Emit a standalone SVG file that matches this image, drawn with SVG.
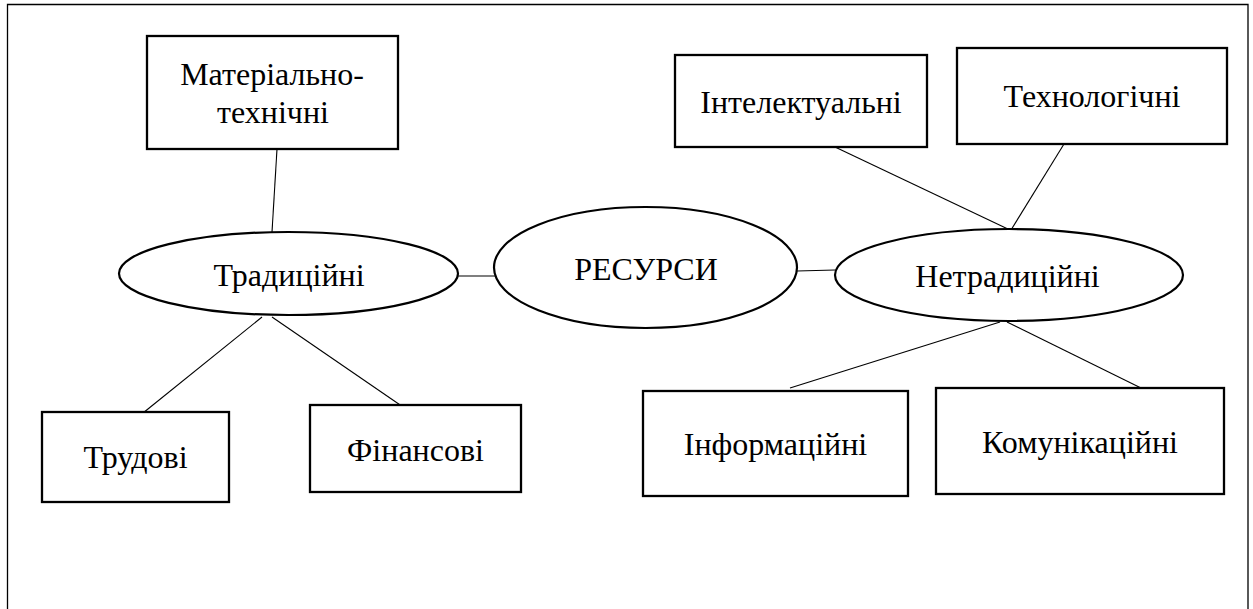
<svg xmlns="http://www.w3.org/2000/svg" width="1253" height="609" viewBox="0 0 1253 609">
<style>
  .box { fill: #fff; stroke: #000; stroke-width: 2.3; }
  .ell { fill: #fff; stroke: #000; stroke-width: 2.2; }
  .con { stroke: #000; stroke-width: 1.1; fill: none; }
  .frame { stroke: #000; stroke-width: 1.3; fill: none; }
  text { font-family: "Liberation Serif", "Times New Roman", serif; font-size: 32px; fill: #000; text-anchor: middle; }
</style>
<rect width="1253" height="609" fill="#fff"/>
<path class="frame" d="M7.5,609 V4.5 H1248 V609"/>
<g id="connectors">
  <line class="con" x1="277" y1="149" x2="272" y2="232"/>
  <line class="con" x1="458" y1="276" x2="497" y2="276"/>
  <line class="con" x1="797" y1="271" x2="835" y2="270"/>
  <line class="con" x1="262" y1="317" x2="143" y2="413"/>
  <line class="con" x1="272" y1="317" x2="406" y2="409"/>
  <line class="con" x1="835" y1="147" x2="1010" y2="230"/>
  <line class="con" x1="1064" y1="144" x2="1011" y2="230"/>
  <line class="con" x1="1000" y1="322" x2="790" y2="388"/>
  <line class="con" x1="1007" y1="322" x2="1141" y2="388"/>
</g>
<g id="material">
  <rect class="box" x="147" y="36" width="251" height="113"/>
  <text x="272" y="85">Матеріально-</text>
  <text x="273" y="123">технічні</text>
</g>
<g id="traditional">
  <ellipse class="ell" cx="288.5" cy="273.5" rx="169.5" ry="41.5"/>
  <text x="289" y="286">Традиційні</text>
</g>
<g id="resources">
  <ellipse class="ell" cx="645.5" cy="267.5" rx="151.5" ry="60.5"/>
  <text x="646" y="280">РЕСУРСИ</text>
</g>
<g id="nontraditional">
  <ellipse class="ell" cx="1009" cy="275" rx="174" ry="46"/>
  <text x="1007.5" y="287">Нетрадиційні</text>
</g>
<g id="intellectual">
  <rect class="box" x="675" y="55" width="252" height="92"/>
  <text x="801" y="113">Інтелектуальні</text>
</g>
<g id="technological">
  <rect class="box" x="957" y="48" width="270" height="96"/>
  <text x="1092" y="107">Технологічні</text>
</g>
<g id="labour">
  <rect class="box" x="42" y="412" width="187" height="90"/>
  <text x="135.5" y="468">Трудові</text>
</g>
<g id="financial">
  <rect class="box" x="310" y="405" width="211" height="87"/>
  <text x="415.5" y="461">Фінансові</text>
</g>
<g id="informational">
  <rect class="box" x="643" y="391" width="265" height="105"/>
  <text x="775.5" y="455">Інформаційні</text>
</g>
<g id="communicational">
  <rect class="box" x="936" y="388" width="288" height="106"/>
  <text x="1080" y="453">Комунікаційні</text>
</g>
</svg>
